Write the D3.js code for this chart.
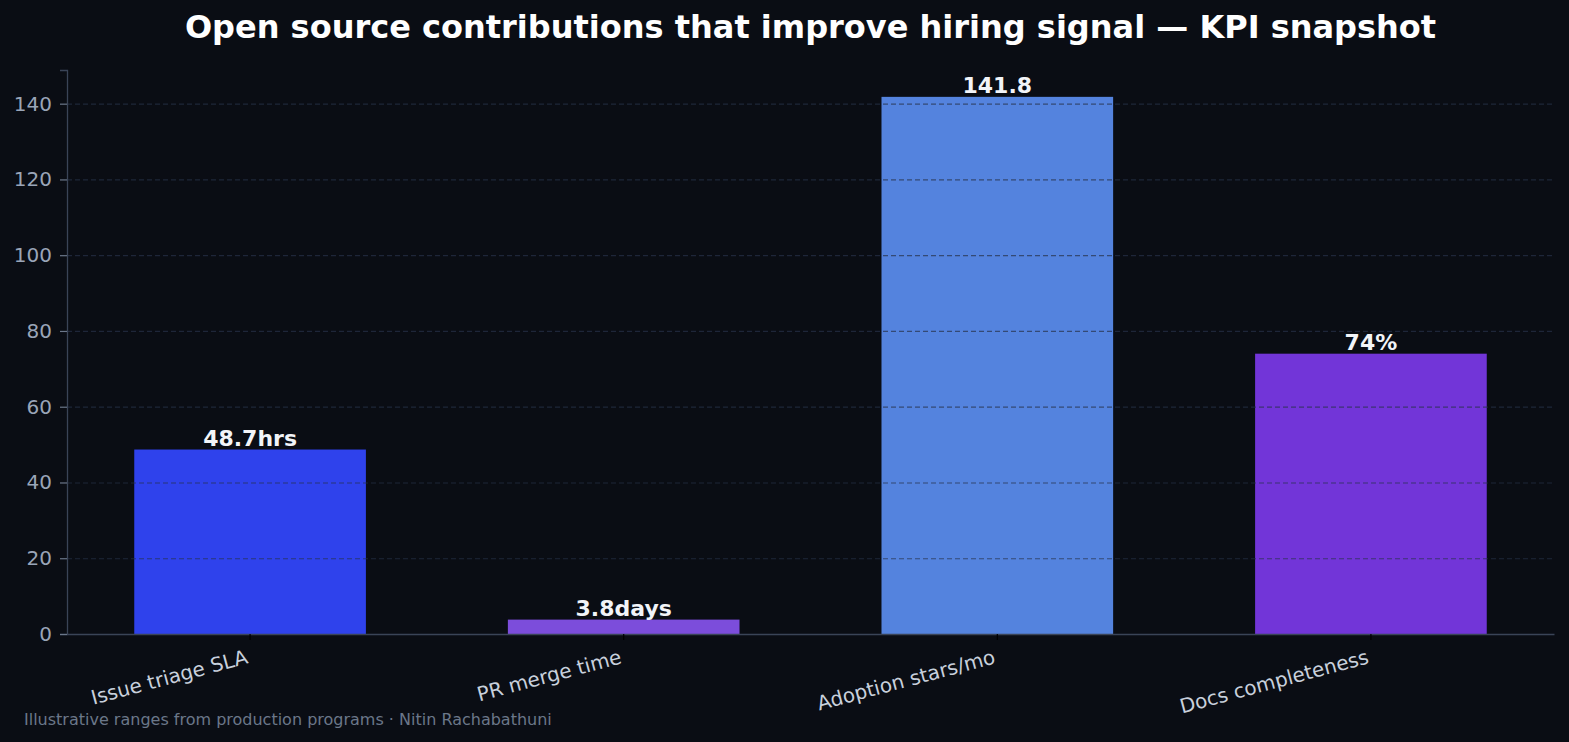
<!DOCTYPE html>
<html>
<head>
<meta charset="utf-8">
<script src="https://cdn.jsdelivr.net/npm/d3@7"></script>
<style>
  html, body { margin: 0; padding: 0; background: #0a0d14; }
  svg { display: block; font-family: 'DejaVu Sans', sans-serif; }
</style>
</head>
<body>
<div id="chart"></div>
<script>
// Chart data
var categories = ['Issue triage SLA', 'PR merge time', 'Adoption stars/mo', 'Docs completeness']
var values = [48.7, 3.8, 141.8, 74]
var units = ['hrs', 'days', '', '%']
var barColors = ['#2f42ec', '#7c4ddb', '#5483de', '#7235d8']
var yTicks = [0, 20, 40, 60, 80, 100, 120, 140]

var width = 1569
var height = 742
var margin = { top: 70, right: 15, bottom: 108, left: 67 }
var innerW = width - margin.left - margin.right
var innerH = height - margin.top - margin.bottom
var font = "'DejaVu Sans', sans-serif"

var svg = d3.select('#chart')
  .append('svg')
  .attr('width', width)
  .attr('height', height)

svg.append('rect')
  .attr('width', width)
  .attr('height', height)
  .attr('fill', '#0a0d14')

var g = svg.append('g')
  .attr('transform', 'translate(' + margin.left + ',' + margin.top + ')')

// Scales
var x = d3.scaleBand()
  .domain(categories)
  .range([0, innerW])
  .paddingInner(0.38)
  .paddingOuter(0.18)

var y = d3.scaleLinear()
  .domain([0, d3.max(values) * 1.05])
  .range([innerH, 0])

// Bars
g.selectAll('.bar')
  .data(values)
  .enter()
  .append('rect')
  .attr('class', 'bar')
  .attr('x', function (d, i) { return x(categories[i]) })
  .attr('y', function (d) { return y(d) })
  .attr('width', x.bandwidth())
  .attr('height', function (d) { return innerH - y(d) })
  .attr('fill', function (d, i) { return barColors[i] })

// Grid lines (drawn over the bars)
g.selectAll('.grid')
  .data(yTicks)
  .enter()
  .append('line')
  .attr('x1', 0)
  .attr('x2', innerW)
  .attr('y1', function (d) { return y(d) + 0.5 })
  .attr('y2', function (d) { return y(d) + 0.5 })
  .attr('stroke', '#263248')
  .attr('stroke-opacity', 0.7)
  .attr('stroke-width', 1.2)
  .attr('stroke-dasharray', '5,3')

// Y axis
var yAxis = g.append('g')
  .call(d3.axisLeft(y).tickValues(yTicks).tickSize(7).tickPadding(8))
  .attr('font-family', font)
yAxis.select('.domain').attr('stroke', '#3a4457').attr('stroke-width', 1.3)
yAxis.selectAll('.tick line').attr('stroke', '#6b778a').attr('stroke-width', 1.2)
yAxis.selectAll('.tick text')
  .attr('fill', '#9aa5b8')
  .attr('font-size', '20px')

// X axis
var xAxis = g.append('g')
  .attr('transform', 'translate(0,' + innerH + ')')
  .call(d3.axisBottom(x).tickSize(6).tickSizeOuter(0))
  .attr('font-family', font)
xAxis.select('.domain').attr('stroke', '#3a4457').attr('stroke-width', 1.3)
xAxis.selectAll('.tick line').attr('stroke', '#000').attr('stroke-width', 1.2)
xAxis.selectAll('.tick text')
  .attr('fill', '#c8d0dc')
  .attr('font-size', '20px')
  .attr('text-anchor', 'end')
  .attr('y', 0)
  .attr('dy', 0)
  .attr('transform', 'translate(-1,29) rotate(-15)')

// Value labels
g.selectAll('.val')
  .data(values)
  .enter()
  .append('text')
  .attr('x', function (d, i) { return x(categories[i]) + x.bandwidth() / 2 })
  .attr('y', function (d) { return y(d) - 4 })
  .attr('text-anchor', 'middle')
  .attr('fill', '#f2f4f8')
  .attr('font-size', '22px')
  .attr('font-weight', 'bold')
  .text(function (d, i) { return d + units[i] })

// Title
svg.append('text')
  .attr('x', margin.left + innerW / 2)
  .attr('y', 38)
  .attr('text-anchor', 'middle')
  .attr('fill', '#ffffff')
  .attr('font-size', '32px')
  .attr('font-weight', 'bold')
  .text('Open source contributions that improve hiring signal \u2014 KPI snapshot')

// Footer
svg.append('text')
  .attr('x', 24)
  .attr('y', 725)
  .attr('fill', '#6b7789')
  .attr('font-size', '16px')
  .text('Illustrative ranges from production programs \u00b7 Nitin Rachabathuni')
</script>
</body>
</html>
